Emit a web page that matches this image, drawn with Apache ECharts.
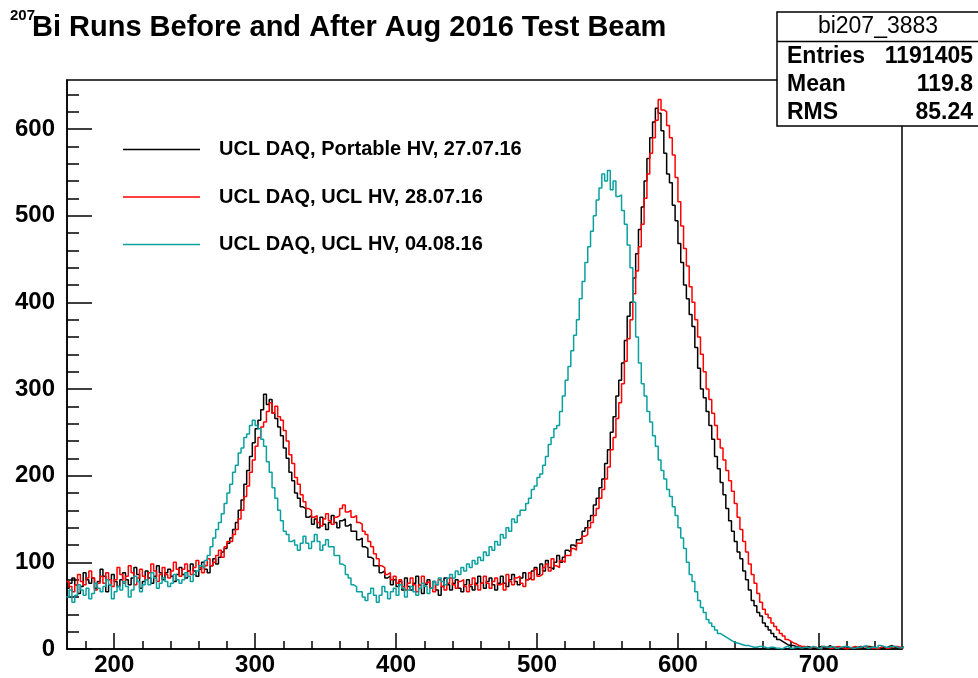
<!DOCTYPE html>
<html><head><meta charset="utf-8">
<script src="https://cdn.jsdelivr.net/npm/echarts@6/dist/echarts.min.js"></script>
<style>html,body{margin:0;padding:0;background:#fff}#c{width:978px;height:678px}</style>
</head><body><div id="c"></div>
<script>
const titleSup = '207';
const titleMain = 'Bi Runs Before and After Aug 2016 Test Beam';
const seriesNames = ['UCL DAQ, Portable HV, 27.07.16', 'UCL DAQ, UCL HV, 28.07.16', 'UCL DAQ, UCL HV, 04.08.16'];
const seriesColors = ['#000000', '#ff0000', '#0aa0a0'];
const binStart = 166, binWidth = 2;
const xMin = 166.5, xMax = 759, yMin = 0, yMax = 656.5;
const xMajorTicks = [200, 300, 400, 500, 600, 700];
const xMinorTicks = [180, 220, 240, 260, 280, 320, 340, 360, 380, 420, 440, 460, 480, 520, 540, 560, 580, 620, 640, 660, 680, 720, 740];
const yMajorTicks = [0, 100, 200, 300, 400, 500, 600];
const yMinorTicks = [20, 40, 60, 80, 120, 140, 160, 180, 220, 240, 260, 280, 320, 340, 360, 380, 420, 440, 460, 480, 520, 540, 560, 580, 620, 640];
const statTitle = 'bi207_3883';
const statLabels = ['Entries', 'Mean', 'RMS'];
const statValues = ['1191405', '119.8', '85.24'];

// counts per 2-unit bin, starting at 166
const blackVals = [
 70,76,82,74,64,72,88,80,76,82,70,78,92,84,66,74,86,78,72,80,
 88,80,74,82,94,86,70,78,90,82,76,84,96,88,80,88,92,84,78,86,
 94,86,82,90,98,90,84,92,100,92,88,96,104,98,106,112,116,122,128,138,
 146,160,172,190,206,222,238,254,264,276,294,282,288,272,266,256,246,232,220,204,
 194,180,174,164,162,152,154,144,150,140,152,144,138,146,154,146,140,148,150,142,
 144,136,136,126,128,118,116,106,104,96,96,88,90,82,84,74,80,72,78,68,
 82,72,68,76,84,74,64,74,80,70,78,68,62,72,82,74,68,76,80,70,
 66,74,80,72,68,76,84,76,70,78,82,74,68,76,84,76,72,80,86,78,
 74,82,88,80,82,90,94,86,98,90,102,94,92,100,108,100,106,114,112,120,
 118,126,128,136,140,148,154,166,174,186,196,214,230,250,268,292,310,330,356,384,
 400,428,456,484,510,540,566,590,608,624,618,598,572,548,538,512,494,468,446,420,
 404,386,372,348,324,300,290,274,258,242,222,208,192,178,162,148,136,124,112,104,
 90,80,68,56,50,42,38,30,26,22,18,14,11,9,7,5,4,4,3,2,
 2,1,3,2,1,0,2,3,1,2,4,2,2,1,0,2,3,1,1,2,
 2,3,1,0,3,2,2,1,0,2,1,3,4,2,1,1,2,3
];
const redVals = [
 78,72,66,74,86,78,74,82,90,82,68,76,84,76,88,80,72,80,94,86,
 76,84,96,88,74,82,92,84,80,88,98,90,78,86,94,86,82,90,100,92,
 84,92,98,90,86,94,102,94,88,96,104,96,100,108,114,106,118,124,124,132,
 138,150,160,176,188,204,218,234,244,256,262,274,284,272,280,268,264,252,240,224,
 214,198,190,178,170,162,160,152,154,146,142,150,156,148,144,152,154,162,166,158,
 160,152,154,146,144,136,132,124,118,110,104,96,94,86,88,80,84,76,80,72,
 68,76,82,74,66,74,84,76,78,70,66,74,80,72,68,76,82,74,70,78,
 80,72,66,74,82,74,68,76,84,76,70,78,82,74,76,68,86,78,74,82,
 84,76,72,80,88,80,92,84,86,94,98,90,104,96,94,102,100,108,108,116,
 114,122,122,130,132,140,146,154,162,174,184,196,210,230,244,266,284,306,332,358,
 380,410,436,464,490,520,548,572,590,610,634,622,620,604,590,570,544,516,488,462,
 442,418,400,380,360,340,320,300,288,272,258,242,232,218,206,194,182,168,152,138,
 124,112,98,86,76,64,54,46,40,36,30,26,22,18,15,11,9,7,6,4,
 3,3,2,1,2,2,1,0,3,2,1,1,2,3,2,1,0,1,2,3,
 1,2,3,2,2,1,1,0,2,3,1,1,2,3,3,2,1,2
];
const cyanVals = [
 60,68,54,62,74,68,62,70,58,64,76,70,66,72,80,74,58,66,72,68,
 78,72,60,68,84,78,66,74,80,74,88,82,70,76,82,78,72,76,86,80,
 76,80,88,84,78,86,90,96,94,102,108,118,128,138,146,156,168,180,190,204,
 212,226,232,244,248,258,264,258,254,242,234,216,204,186,174,160,148,136,132,124,
 126,120,114,122,130,122,116,124,132,124,114,120,126,118,118,108,108,98,96,86,
 82,74,72,66,66,60,56,64,70,62,54,62,72,66,58,66,70,62,74,70,
 60,68,72,66,62,70,76,72,64,70,78,74,82,78,74,82,86,82,90,86,
 94,90,98,94,102,98,106,102,112,108,118,114,124,120,132,128,140,136,150,146,
 154,160,160,168,174,184,188,198,202,212,222,236,244,254,258,274,292,310,326,344,
 362,380,404,424,446,464,482,500,518,532,548,540,552,530,540,522,524,506,490,466,
 440,400,360,330,306,292,274,262,246,234,218,206,196,184,176,164,154,140,128,116,
 100,86,78,66,56,48,42,34,30,26,22,18,16,14,12,10,8,7,6,5,
 4,4,3,2,2,3,3,2,1,2,2,1,1,0,2,3,1,1,2,2,
 1,2,2,1,3,2,1,0,3,2,2,3,1,1,2,3,3,2,1,1,
 2,2,3,4,1,2,2,1,4,3,2,2,3,3,2,1,2,3
];

const allVals = [blackVals, redVals, cyanVals];
const FONT = '"Liberation Sans", Arial, Helvetica, sans-serif';
const chart = echarts.init(document.getElementById('c'), null, {renderer: 'canvas'});

function toPairs(vals) {
  return vals.map((v, i) => [binStart + i * binWidth, v]);
}

const tickStyle = {color: '#000', width: 1.5};
const option = {
  animation: false,
  backgroundColor: '#fff',
  grid: {left: 67, right: 76, top: 80, bottom: 29, show: true, borderColor: '#000', borderWidth: 1.5, backgroundColor: 'transparent'},
  xAxis: [
    {type: 'value', min: xMin, max: xMax, position: 'bottom',
     axisLine: {show: true, lineStyle: {color: '#000', width: 1.5}},
     axisTick: {show: true, inside: true, length: 16, customValues: xMajorTicks, lineStyle: tickStyle},
     axisLabel: {show: true, customValues: xMajorTicks, color: '#000', fontSize: 24, fontWeight: 'bold', fontFamily: FONT, margin: 4},
     splitLine: {show: false}},
    {type: 'value', min: xMin, max: xMax, position: 'bottom',
     axisLine: {show: false},
     axisTick: {show: true, inside: true, length: 8, customValues: xMinorTicks, lineStyle: tickStyle},
     axisLabel: {show: false}, splitLine: {show: false}}
  ],
  yAxis: [
    {type: 'value', min: yMin, max: yMax, position: 'left',
     axisLine: {show: true, lineStyle: {color: '#000', width: 1.5}},
     axisTick: {show: true, inside: true, length: 25, customValues: yMajorTicks, lineStyle: tickStyle},
     axisLabel: {show: true, customValues: yMajorTicks, color: '#000', fontSize: 24, fontWeight: 'bold', fontFamily: FONT, margin: 12},
     splitLine: {show: false}},
    {type: 'value', min: yMin, max: yMax, position: 'left',
     axisLine: {show: false},
     axisTick: {show: true, inside: true, length: 12, customValues: yMinorTicks, lineStyle: tickStyle},
     axisLabel: {show: false}, splitLine: {show: false}}
  ],
  legend: {
    orient: 'vertical', left: 123, top: 138.5, padding: 0, itemWidth: 77, itemHeight: 1.5, icon: 'rect', itemGap: 25.5,
    textStyle: {fontSize: 20, fontWeight: 'bold', fontFamily: FONT, color: '#000', padding: [0, 0, 0, 14], lineHeight: 22},
    data: seriesNames
  },
  series: seriesNames.map((name, k) => ({
    name: name, type: 'line', step: 'end', xAxisIndex: 0, yAxisIndex: 0,
    data: toPairs(allVals[k]), symbol: 'none', showSymbol: false,
    lineStyle: {color: seriesColors[k], width: 1.5}, itemStyle: {color: seriesColors[k]},
    clip: true, z: 2 + k
  })),
  graphic: [
    {type: 'text', x: 10, y: 16, z: 10, style: {text: titleSup, font: 'bold 15px ' + FONT, fill: '#000', align: 'left', verticalAlign: 'middle'}},
    {type: 'text', x: 32, y: 28, z: 10, style: {text: titleMain, font: 'bold 29px ' + FONT, fill: '#000', align: 'left', verticalAlign: 'middle'}},
    {type: 'rect', z: 20, shape: {x: 777, y: 12, width: 210, height: 114}, style: {fill: '#fff', stroke: '#000', lineWidth: 1.5}},
    {type: 'line', z: 21, shape: {x1: 777, y1: 41.5, x2: 978, y2: 41.5}, style: {stroke: '#000', lineWidth: 1.5}},
    {type: 'text', z: 22, x: 878, y: 27, style: {text: statTitle, font: '23px ' + FONT, fill: '#000', align: 'center', verticalAlign: 'middle'}},
    ...statLabels.map((lab, i) => ({type: 'text', z: 22, x: 787, y: 57 + i * 28, style: {text: lab, font: 'bold 23px ' + FONT, fill: '#000', align: 'left', verticalAlign: 'middle'}})),
    ...statValues.map((val, i) => ({type: 'text', z: 22, x: 973, y: 57 + i * 28, style: {text: val, font: 'bold 23px ' + FONT, fill: '#000', align: 'right', verticalAlign: 'middle'}}))
  ]
};
chart.setOption(option);
</script>
</body></html>
